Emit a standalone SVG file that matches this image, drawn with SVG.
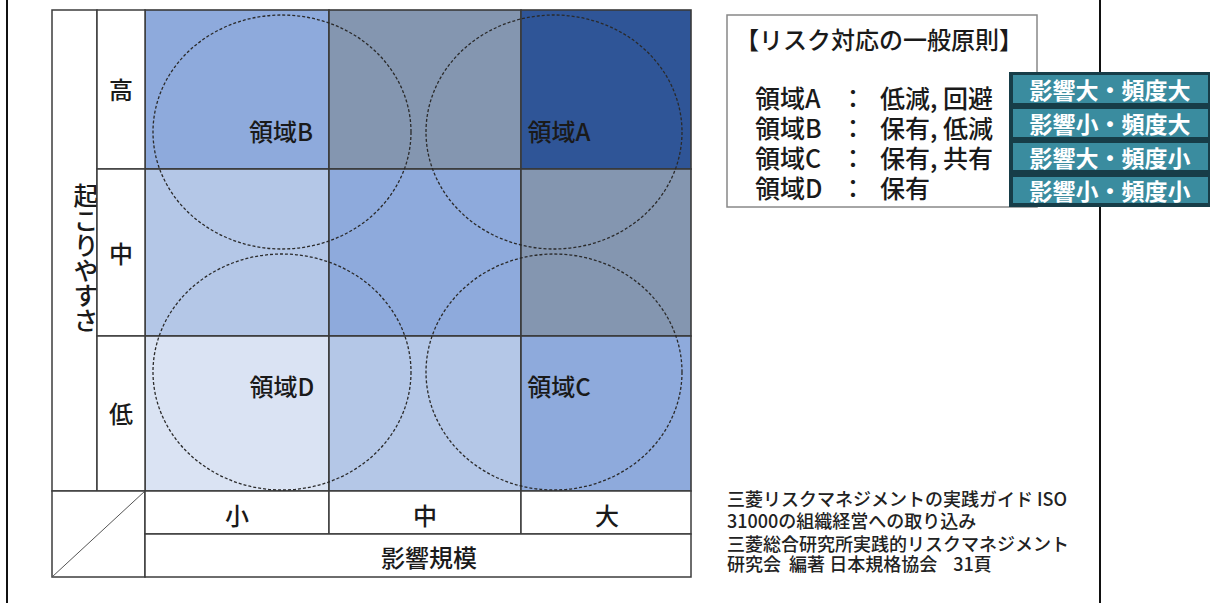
<svg xmlns="http://www.w3.org/2000/svg" width="1210" height="603" viewBox="0 0 1210 603">
<style>
text{font-family:"Noto Sans CJK JP","Noto Sans",sans-serif;fill:#1a1a1a;dominant-baseline:central;font-weight:500}
.grid{stroke:#3c3c3c;stroke-width:1.5;fill:none}
.cell{stroke:#3a3a3a;stroke-width:1.6}
.lbl{fill:#fff;stroke:#3c3c3c;stroke-width:1.5}
.circ{fill:none;stroke:#2a2a2a;stroke-width:1.3;stroke-dasharray:3 2}
.t24{font-size:24px}
.t25{font-size:25px}
.mid{text-anchor:middle}
.tag{fill:#3a8c9f}
.tagt{font-size:23px;font-weight:bold;fill:#fff;text-anchor:middle}
.ref{font-size:18px;fill:#222}
</style>
<rect width="1210" height="603" fill="#fff"/>
<g id="page-border">
<line x1="7" y1="0" x2="7" y2="603" stroke="#111" stroke-width="2"/>
<line x1="1100" y1="0" x2="1100" y2="603" stroke="#111" stroke-width="2"/>
</g>
<g id="cells">
<rect id="cell-high-small" class="cell" x="145" y="10" width="184" height="159" fill="#8eaadc"/>
<rect id="cell-high-mid" class="cell" x="329" y="10" width="192" height="159" fill="#8496b0"/>
<rect id="cell-high-large" class="cell" x="521" y="10" width="170" height="159" fill="#2f5597"/>
<rect id="cell-mid-small" class="cell" x="145" y="169" width="184" height="167" fill="#b4c7e7"/>
<rect id="cell-mid-mid" class="cell" x="329" y="169" width="192" height="167" fill="#8eaadc"/>
<rect id="cell-mid-large" class="cell" x="521" y="169" width="170" height="167" fill="#8496b0"/>
<rect id="cell-low-small" class="cell" x="145" y="336" width="184" height="155" fill="#dae3f3"/>
<rect id="cell-low-mid" class="cell" x="329" y="336" width="192" height="155" fill="#b4c7e7"/>
<rect id="cell-low-large" class="cell" x="521" y="336" width="170" height="155" fill="#8eaadc"/>
</g>
<g id="y-axis">
<rect class="lbl" x="52" y="10" width="45" height="481"/>
<text x="86" y="258" style="writing-mode:vertical-rl;text-orientation:upright" font-size="25" text-anchor="middle">起こりやすさ</text>
<rect class="lbl" x="97" y="10" width="48" height="159"/>
<rect class="lbl" x="97" y="169" width="48" height="167"/>
<rect class="lbl" x="97" y="336" width="48" height="155"/>
<text class="t24 mid" x="121" y="88">高</text>
<text class="t24 mid" x="121" y="252">中</text>
<text class="t24 mid" x="121" y="412">低</text>
</g>
<g id="x-axis">
<rect class="lbl" x="52" y="491" width="93" height="86"/>
<line x1="52" y1="577" x2="145" y2="491" stroke="#555" stroke-width="1"/>
<rect class="lbl" x="145" y="491" width="184" height="43"/>
<rect class="lbl" x="329" y="491" width="192" height="43"/>
<rect class="lbl" x="521" y="491" width="170" height="43"/>
<rect class="lbl" x="145" y="534" width="546" height="43"/>
<text class="t24 mid" x="237" y="514">小</text>
<text class="t24 mid" x="425" y="514">中</text>
<text class="t24 mid" x="607" y="514">大</text>
<text class="t24 mid" x="429" y="556">影響規模</text>
</g>
<g id="regions">
<g id="region-B"><ellipse class="circ" cx="282" cy="132" rx="129" ry="117"/><text class="t24 mid" x="281" y="130">領域B</text></g>
<g id="region-A"><ellipse class="circ" cx="554" cy="132" rx="128" ry="117"/><text class="t24 mid" x="559" y="130">領域A</text></g>
<g id="region-D"><ellipse class="circ" cx="282" cy="372" rx="129" ry="118"/><text class="t24 mid" x="282" y="385">領域D</text></g>
<g id="region-C"><ellipse class="circ" cx="554" cy="372" rx="128" ry="118"/><text class="t24 mid" x="559" y="385">領域C</text></g>
</g>
<g id="legend">
<rect x="727" y="15" width="310" height="192" fill="#fff" stroke="#888" stroke-width="1.5"/>
<text class="t24" x="735" y="38">【リスク対応の一般原則】</text>
<text class="t25" x="755" y="97">領域A</text><text class="t25 mid" x="853" y="97">：</text><text class="t25" x="880" y="97">低減, 回避</text>
<text class="t25" x="755" y="127">領域B</text><text class="t25 mid" x="853" y="127">：</text><text class="t25" x="880" y="127">保有, 低減</text>
<text class="t25" x="755" y="157">領域C</text><text class="t25 mid" x="853" y="157">：</text><text class="t25" x="880" y="157">保有, 共有</text>
<text class="t25" x="755" y="187">領域D</text><text class="t25 mid" x="853" y="187">：</text><text class="t25" x="880" y="187">保有</text>
</g>
<g id="tags">
<rect x="1009" y="72" width="201" height="135" fill="#173d48"/>
<rect class="tag" x="1013" y="75" width="195" height="28"/>
<rect class="tag" x="1013" y="109" width="195" height="28"/>
<rect class="tag" x="1013" y="143" width="195" height="27"/>
<rect class="tag" x="1013" y="177" width="195" height="26"/>
<text class="tagt" x="1110" y="89">影響大・頻度大</text>
<text class="tagt" x="1110" y="123">影響小・頻度大</text>
<text class="tagt" x="1110" y="157">影響大・頻度小</text>
<text class="tagt" x="1110" y="190">影響小・頻度小</text>
</g>
<g id="source">
<text class="ref" x="727" y="498">三菱リスクマネジメントの実践ガイド ISO</text>
<text class="ref" x="727" y="520">31000の組織経営への取り込み</text>
<text class="ref" x="727" y="543">三菱総合研究所実践的リスクマネジメント</text>
<text class="ref" x="727" y="563" xml:space="preserve">研究会  編著 日本規格協会    31頁</text>
</g>
</svg>
